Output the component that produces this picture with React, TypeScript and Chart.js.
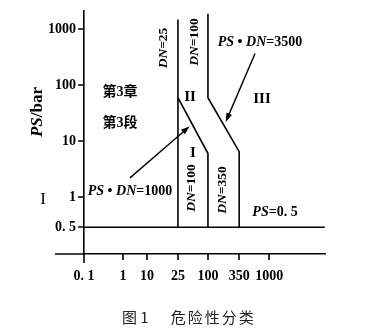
import React, { useEffect, useRef } from 'react';
import { Chart, registerables } from 'chart.js';
Chart.register(...registerables);

// Schematic axes (non-uniform, as in the original figure)
const xTickValues = [0.1, 1, 10, 25, 100, 350, 1000];
const xTickLabels = ['0. 1', '1', '10', '25', '100', '350', '1000'];
const xAxisStops = [0, 1.3, 2.1, 3.13, 4.13, 5.17, 6.17];
const yTickValues = [0.5, 1, 10, 100, 1000];
const yTickLabels = ['0. 5', '1', '10', '100', '1000'];
const yAxisStops = [-0.54, 0, 1, 2, 3];

// Boundary lines (DN, PS)
const lineDN25_dn = [25, 25];
const lineDN25_ps = [0.5, 1500];
const linePSDN1000_dn = [25, 100, 100];
const linePSDN1000_ps = [60, 6, 0.5];
const linePSDN3500_dn = [100, 100, 350, 350];
const linePSDN3500_ps = [1900, 60, 6.5, 0.5];
const linePS05_dn = [0.1, 7000];
const linePS05_ps = [0.5, 0.5];

// Arrows (tail -> head)
const arrow1000_dn = [1.95, 43];
const arrow1000_ps = [2.2, 18.5];
const arrow3500_dn = [610, 204];
const arrow3500_ps = [370, 22];

function mapLog(v: number, vals: number[], stops: number[]) {
  const lv = Math.log10(v);
  const lvals = vals.map((a) => Math.log10(a));
  const n = lvals.length;
  let i = 0;
  if (lv <= lvals[0]) i = 0;
  else if (lv >= lvals[n - 1]) i = n - 2;
  else while (lv > lvals[i + 1]) i++;
  const t = (lv - lvals[i]) / (lvals[i + 1] - lvals[i]);
  return stops[i] + t * (stops[i + 1] - stops[i]);
}
const xPos = (v: number) => mapLog(v, xTickValues, xAxisStops);
const yPos = (v: number) => mapLog(v, yTickValues, yAxisStops);
const toPts = (dn: number[], ps: number[]) => dn.map((d, i) => ({ x: xPos(d), y: yPos(ps[i]) }));

type Seg = { t: string; it?: boolean; bold?: boolean; fam?: string };
const SERIF = '"Liberation Serif", "Noto Sans CJK SC", serif';

function drawRich(ctx: CanvasRenderingContext2D, segs: Seg[], x: number, y: number, size: number, rot = 0) {
  ctx.save();
  ctx.translate(x, y);
  ctx.rotate(rot);
  ctx.textBaseline = 'middle';
  ctx.textAlign = 'left';
  const fonts = segs.map((s) => `${s.it ? 'italic ' : ''}${s.bold === false ? '' : 'bold '}${size}px ${s.fam || SERIF}`);
  let total = 0;
  const widths = segs.map((s, i) => {
    ctx.font = fonts[i];
    const w = ctx.measureText(s.t).width;
    total += w;
    return w;
  });
  let cx = -total / 2;
  segs.forEach((s, i) => {
    ctx.font = fonts[i];
    ctx.fillStyle = '#000';
    ctx.fillText(s.t, cx, 0);
    cx += widths[i];
  });
  ctx.restore();
}

function drawArrow(ctx: CanvasRenderingContext2D, x1: number, y1: number, x2: number, y2: number) {
  const ang = Math.atan2(y2 - y1, x2 - x1);
  const L = 9, W = 3;
  ctx.save();
  ctx.strokeStyle = '#000';
  ctx.fillStyle = '#000';
  ctx.lineWidth = 1.4;
  ctx.beginPath();
  ctx.moveTo(x1, y1);
  ctx.lineTo(x2 - Math.cos(ang) * L * 0.8, y2 - Math.sin(ang) * L * 0.8);
  ctx.stroke();
  ctx.beginPath();
  ctx.moveTo(x2, y2);
  ctx.lineTo(x2 - Math.cos(ang) * L - Math.sin(ang) * W, y2 - Math.sin(ang) * L + Math.cos(ang) * W);
  ctx.lineTo(x2 - Math.cos(ang) * L + Math.sin(ang) * W, y2 - Math.sin(ang) * L - Math.cos(ang) * W);
  ctx.closePath();
  ctx.fill();
  ctx.restore();
}

const decorPlugin = {
  id: 'decor',
  afterDraw(chart: any) {
    const ctx: CanvasRenderingContext2D = chart.ctx;
    const xs = chart.scales.x;
    const ys = chart.scales.y;
    const ca = chart.chartArea;
    ctx.save();
    ctx.strokeStyle = '#000';
    ctx.lineWidth = 1.6;
    ctx.beginPath();
    // x axis extension to the left
    ctx.moveTo(ca.left - 29, ca.bottom);
    ctx.lineTo(ca.left, ca.bottom);
    // y axis extension below
    ctx.moveTo(ca.left, ca.bottom);
    ctx.lineTo(ca.left, ca.bottom + 9);
    // tick marks
    xAxisStops.forEach((v, i) => {
      if (i === 0) return;
      const x = Math.round(xs.getPixelForValue(v));
      ctx.moveTo(x, ca.bottom);
      ctx.lineTo(x, ca.bottom + 6);
    });
    yAxisStops.forEach((v) => {
      const y = Math.round(ys.getPixelForValue(v));
      ctx.moveTo(ca.left - 6, y);
      ctx.lineTo(ca.left, y);
    });
    ctx.stroke();
    ctx.restore();

    const px = (d: number) => xs.getPixelForValue(xPos(d));
    const py = (p: number) => ys.getPixelForValue(yPos(p));
    drawArrow(ctx, px(arrow1000_dn[0]), py(arrow1000_ps[0]), px(arrow1000_dn[1]), py(arrow1000_ps[1]));
    drawArrow(ctx, px(arrow3500_dn[0]), py(arrow3500_ps[0]), px(arrow3500_dn[1]), py(arrow3500_ps[1]));

    const up = -Math.PI / 2;
    drawRich(ctx, [{ t: 'PS', it: true }, { t: '/bar' }], 38, 112, 17, up);
    drawRich(ctx, [{ t: 'DN', it: true }, { t: '=25' }], 164, 48, 13.5, up);
    drawRich(ctx, [{ t: 'DN', it: true }, { t: '=100' }], 195, 42, 13.5, up);
    drawRich(ctx, [{ t: 'DN', it: true }, { t: '=100' }], 192, 188, 13.5, up);
    drawRich(ctx, [{ t: 'DN', it: true }, { t: '=350' }], 223, 190, 13.5, up);
    drawRich(ctx, [{ t: '第3章' }], 120, 92, 14);
    drawRich(ctx, [{ t: '第3段' }], 120, 123, 14);
    drawRich(ctx, [{ t: 'PS', it: true }, { t: ' • ' }, { t: 'DN', it: true }, { t: '=3500' }], 260, 42, 14);
    drawRich(ctx, [{ t: 'PS', it: true }, { t: ' • ' }, { t: 'DN', it: true }, { t: '=1000' }], 130, 191, 14);
    drawRich(ctx, [{ t: 'PS', it: true }, { t: '=0. 5' }], 275, 212, 14);
    drawRich(ctx, [{ t: 'II' }], 190, 97, 15);
    drawRich(ctx, [{ t: 'III' }], 262, 99, 15);
    drawRich(ctx, [{ t: 'I' }], 193, 153, 15);
    drawRich(ctx, [{ t: 'I', bold: false }], 43, 200, 17);
  },
};

export default function App() {
  const ref = useRef<HTMLCanvasElement>(null);
  useEffect(() => {
    if (!ref.current) return;
    const mk = (dn: number[], ps: number[]) => ({
      data: toPts(dn, ps),
      showLine: true,
      borderColor: '#000',
      borderWidth: 1.6,
      pointRadius: 0,
      fill: false,
      tension: 0,
    });
    const chart = new Chart(ref.current, {
      type: 'scatter',
      data: {
        datasets: [
          mk(lineDN25_dn, lineDN25_ps),
          mk(linePSDN1000_dn, linePSDN1000_ps),
          mk(linePSDN3500_dn, linePSDN3500_ps),
          mk(linePS05_dn, linePS05_ps),
        ] as any,
      },
      options: {
        responsive: false,
        animation: false,
        layout: { padding: { left: 0, right: 58, top: 10, bottom: 0 } },
        plugins: { legend: { display: false }, tooltip: { enabled: false } },
        scales: {
          x: {
            type: 'linear',
            min: 0,
            max: 8.03,
            afterFit: (s: any) => { s.height = 75; },
            afterBuildTicks: (s: any) => { s.ticks = xAxisStops.map((v) => ({ value: v })); },
            ticks: {
              autoSkip: false,
              maxRotation: 0,
              padding: 8,
              color: '#000',
              font: { family: '"Liberation Serif", serif', size: 14, weight: 'bold' },
              callback: (_v: any, i: number) => xTickLabels[i],
            },
            grid: { display: true, drawOnChartArea: false, drawTicks: true, tickLength: 6, tickColor: 'rgba(0,0,0,0)', color: 'rgba(0,0,0,0)' },
            border: { display: true, color: '#000', width: 1.6 },
          },
          y: {
            type: 'linear',
            min: -1.02,
            max: 3.34,
            afterFit: (s: any) => { s.width = 84; },
            afterBuildTicks: (s: any) => { s.ticks = yAxisStops.map((v) => ({ value: v })); },
            ticks: {
              autoSkip: false,
              padding: 2,
              color: '#000',
              font: { family: '"Liberation Serif", serif', size: 14, weight: 'bold' },
              callback: (_v: any, i: number) => yTickLabels[i],
            },
            grid: { display: true, drawOnChartArea: false, drawTicks: true, tickLength: 6, tickColor: 'rgba(0,0,0,0)', color: 'rgba(0,0,0,0)' },
            border: { display: true, color: '#000', width: 1.6 },
          },
        },
      } as any,
      plugins: [decorPlugin],
    });
    return () => chart.destroy();
  }, []);
  return (
    <div style={{ position: 'absolute', left: 0, top: 0, width: 383, height: 329, background: '#fff' }}>
      <canvas ref={ref} width={383} height={329} style={{ position: 'absolute', left: 0, top: 0 }} />
      <div
        style={{
          position: 'absolute',
          left: 122,
          top: 306,
          fontSize: 15,
          lineHeight: '22px',
          color: '#222',
          fontFamily: '"Noto Sans CJK SC", sans-serif',
          whiteSpace: 'nowrap',
        }}
      >
        <span>图 1</span>
        <span style={{ marginLeft: 22, letterSpacing: 2 }}>危险性分类</span>
      </div>
    </div>
  );
}
